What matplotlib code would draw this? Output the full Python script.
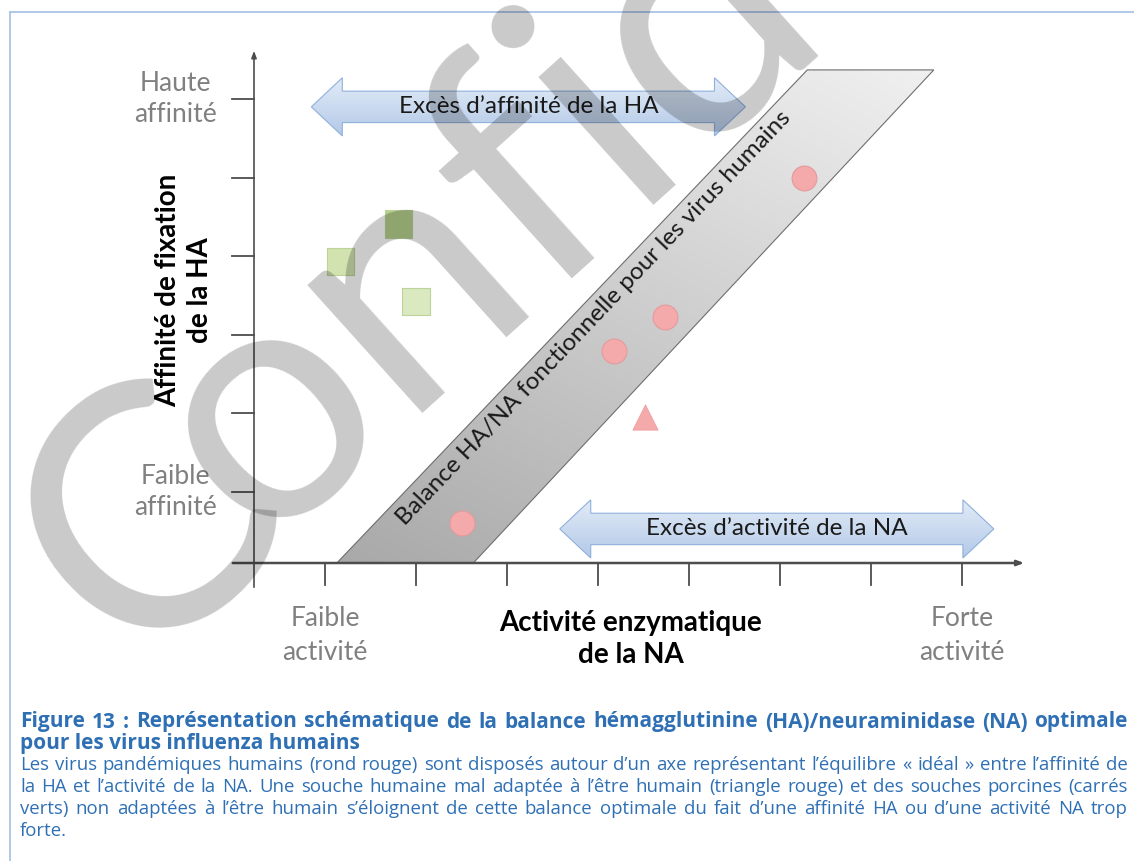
import numpy as np
import matplotlib
matplotlib.use("Agg")
import matplotlib.pyplot as plt
import matplotlib.patches as mpatches
from matplotlib.colors import LinearSegmentedColormap

# ---------------- DATA ----------------
# activity (x) and affinity (y) on a 1..8 / 1..6 tick scale
human_x = [2.50, 4.18, 4.74, 6.26]        # pandemic human viruses (red circles)
human_y = [0.60, 2.80, 3.23, 5.00]
badhuman_x = [4.52]                       # poorly adapted human strain (red triangle)
badhuman_y = [1.95]
swine_x = [1.17, 1.81, 2.00]              # swine strains (green squares)
swine_y = [3.93, 4.41, 3.42]
swine_colors = ["#d3e3b0", "#b5d08c", "#dbe9c0"]

band_bottom = [1.13, 2.63]                # functional balance band at y = axis origin
band_top = [6.30, 7.69]                   # at y = band_top_y
band_top_y = 6.37

x_ticks = [1, 2, 3, 4, 5, 6, 7, 8]
y_ticks = [1, 2, 3, 4, 5, 6]
x_tick_labels = {1: "Faible\nactivité", 8: "Forte\nactivité"}
y_tick_labels = {6: "Haute\naffinité", 1: "Faible\naffinité"}

ha_arrow = (0.85, 5.62, 5.90)             # x start, x end, y
na_arrow = (3.58, 8.35, 0.53)

caption_title = ["Figure 13 : Représentation schématique de la balance hémagglutinine (HA)/neuraminidase (NA) optimale",
                 "pour les virus influenza humains"]
caption_body = ["Les virus pandémiques humains (rond rouge) sont disposés autour d\u2019un axe représentant l\u2019équilibre « idéal » entre l\u2019affinité de",
                "la HA et l\u2019activité de la NA. Une souche humaine mal adaptée à l\u2019être humain (triangle rouge) et des souches porcines (carrés",
                "verts) non adaptées à l\u2019être humain s\u2019éloignent de cette balance optimale du fait d\u2019une affinité HA ou d\u2019une activité NA trop",
                "forte."]

# ---------------- LAYOUT ----------------
W, H = 1134, 861
def fx(px):
    return (px - 325) / 91 + 1
def fy(py):
    return (492 - py) / 78.6 + 1

X0, Y0 = fx(254), fy(563)   # axis origin

plt.rcParams["font.family"] = ["Lato", "DejaVu Sans"]
fig = plt.figure(figsize=(W / 100, H / 100), dpi=100)
ax = fig.add_axes([0, 0, 1, 1])
ax.set_xlim(fx(0), fx(W))
ax.set_ylim(fy(H), fy(0))
ax.axis("off")
renderer = fig.canvas.get_renderer()

# frame around the figure
fig.add_artist(plt.Line2D([10 / W, 10 / W], [0, 1 - 12 / H], color="#a4bfe6", lw=1.2))
fig.add_artist(plt.Line2D([10 / W, 1], [1 - 12 / H, 1 - 12 / H], color="#a4bfe6", lw=1.2))


def gradient_patch(patch, c0, c1, vec, z):
    ax.add_patch(patch)
    (x0, y0), (x1, y1) = patch.get_path().get_extents().get_points()
    gx, gy = np.meshgrid(np.linspace(0, 1, 200), np.linspace(0, 1, 200))
    g = gx * vec[0] + gy * vec[1]
    g = (g - g.min()) / (g.max() - g.min())
    cmap = LinearSegmentedColormap.from_list("g", [c0, c1])
    im = ax.imshow(g, cmap=cmap, extent=(x0, x1, y0, y1), origin="lower",
                   aspect="auto", zorder=z, interpolation="bicubic")
    im.set_clip_path(patch)


def double_arrow(xs, xe, yc, body, head, hl):
    return [(xs, yc), (xs + hl, yc + head), (xs + hl, yc + body), (xe - hl, yc + body),
            (xe - hl, yc + head), (xe, yc), (xe - hl, yc - head), (xe - hl, yc - body),
            (xs + hl, yc - body), (xs + hl, yc - head)]


# band
band = mpatches.Polygon([(band_bottom[0], Y0), (band_bottom[1], Y0),
                         (band_top[1], band_top_y), (band_top[0], band_top_y)],
                        closed=True, facecolor="none", edgecolor="#6e6e6e", lw=0.8, zorder=3)
gradient_patch(band, "#a9a9a9", "#f0f0f0", (0.6, 1.0), 2)
ax.text(fx(594), fy(318), "Balance HA/NA fonctionnelle pour les virus humains",
        rotation=46.5, rotation_mode="anchor", ha="center", va="center",
        fontsize=17.5, color="#1a1a1a", zorder=4)

# blue arrows
for (xs, xe, yc), label in [(ha_arrow, "Excès d\u2019affinité de la HA"),
                            (na_arrow, "Excès d\u2019activité de la NA")]:
    arr = mpatches.Polygon(double_arrow(xs, xe, yc, 0.2, 0.37, 0.34), closed=True,
                           facecolor="none", edgecolor="#8fb0dc", lw=0.8, zorder=3)
    gradient_patch(arr, "#b3c9e8", "#e3ecf7", (0, 1), 2)
    ax.text((xs + xe) / 2, yc, label, ha="center", va="center",
            fontsize=17.5, color="#1a1a1a", zorder=4)

# axes with arrows
ax.annotate("", xy=(X0, fy(48)), xytext=(X0, fy(590)),
            arrowprops=dict(arrowstyle="-|>,head_length=0.4,head_width=0.15", color="#4d4d4d", lw=1.2), zorder=5)
ax.annotate("", xy=(fx(1027), Y0), xytext=(fx(230), Y0),
            arrowprops=dict(arrowstyle="-|>,head_length=0.4,head_width=0.15", color="#4d4d4d", lw=1.8), zorder=5)
for yt in y_ticks:
    ax.plot([fx(232), X0], [yt, yt], color="#4d4d4d", lw=1.3, zorder=5)
for xt in x_ticks:
    ax.plot([xt, xt], [Y0, fy(585)], color="#4d4d4d", lw=1.3, zorder=5)

for yt, lab in y_tick_labels.items():
    ax.text(fx(175), yt, lab, ha="center", va="center", fontsize=19,
            color="#808080", linespacing=1.3, zorder=5)
for xt, lab in x_tick_labels.items():
    ax.text(xt, fy(636), lab, ha="center", va="center", fontsize=19,
            color="#808080", linespacing=1.45, zorder=5)

ax.text(fx(184), fy(290), "Affinité de fixation\nde la HA", rotation=90, ha="center",
        va="center", fontsize=20, fontweight="bold", color="black", linespacing=1.25, zorder=5)
ax.text(fx(631), fy(639), "Activité enzymatique\nde la NA", ha="center",
        va="center", fontsize=20, fontweight="bold", color="black", linespacing=1.25, zorder=5)

# markers
ax.scatter(human_x, human_y, s=320, marker="o", facecolor="#f4a9ab", edgecolor="#e59a9d",
           lw=0.8, zorder=6)
ax.scatter(badhuman_x, badhuman_y, s=330, marker="^", facecolor="#f4a9ab", edgecolor="#f0a0a3",
           lw=0.6, zorder=6)
ax.scatter(swine_x, swine_y, s=380, marker="s", c=swine_colors, edgecolor="#bcd49a",
           lw=0.8, zorder=6)

# watermark, tighter spacing after the C like the original's narrow font
wm_kw = dict(rotation=42, rotation_mode="anchor", ha="left", va="baseline",
             fontsize=245, family="Lato", color="black", alpha=0.21, zorder=20)
sx, sy = 132, 672
fig.text(sx / W, 1 - sy / H, "C", **wm_kw)
tmp = fig.text(0, 0, "C", fontsize=245, family="Lato")
adv = tmp.get_window_extent(renderer).width
tmp.remove()
th = np.deg2rad(42)
ox = sx + adv * np.cos(th) - 42
oy = sy - adv * np.sin(th) + 28
fig.text(ox / W, 1 - oy / H, "onfidentiel", **wm_kw)

# caption, justified lines
cap_color = "#2f70b5"
cap_font = "Open Sans"
left, right = 20, 1128


def fit_size(lines, weight, base, fill):
    widths = []
    for line in lines:
        t = fig.text(0, 0, line, fontsize=base, fontweight=weight, family=cap_font)
        widths.append(t.get_window_extent(renderer).width)
        t.remove()
    return base * fill * (right - left) / max(widths)


def put_line(line, py, size, weight, justify):
    if not justify:
        fig.text(left / W, 1 - py / H, line, ha="left", va="center", fontsize=size,
                 fontweight=weight, color=cap_color, family=cap_font)
        return
    words = line.split(" ")
    arts = [fig.text(0, 1 - py / H, w_, ha="left", va="center", fontsize=size,
                     fontweight=weight, color=cap_color, family=cap_font) for w_ in words]
    widths = [a.get_window_extent(renderer).width for a in arts]
    gap = (right - left - sum(widths)) / (len(words) - 1)
    x = left
    for a, w_ in zip(arts, widths):
        a.set_x(x / W)
        x += w_ + gap


title_size = fit_size(caption_title[:1], "bold", 12, 0.985)
body_size = fit_size(caption_body[:3], "normal", 11, 0.985)
put_line(caption_title[0], 722, title_size, "bold", True)
put_line(caption_title[1], 743, title_size, "bold", False)
body_y = [765, 787, 809, 831]
for i, (line, py) in enumerate(zip(caption_body, body_y)):
    put_line(line, py, body_size, "normal", i < len(caption_body) - 1)

fig.savefig("out.png", dpi=100, facecolor="white")
